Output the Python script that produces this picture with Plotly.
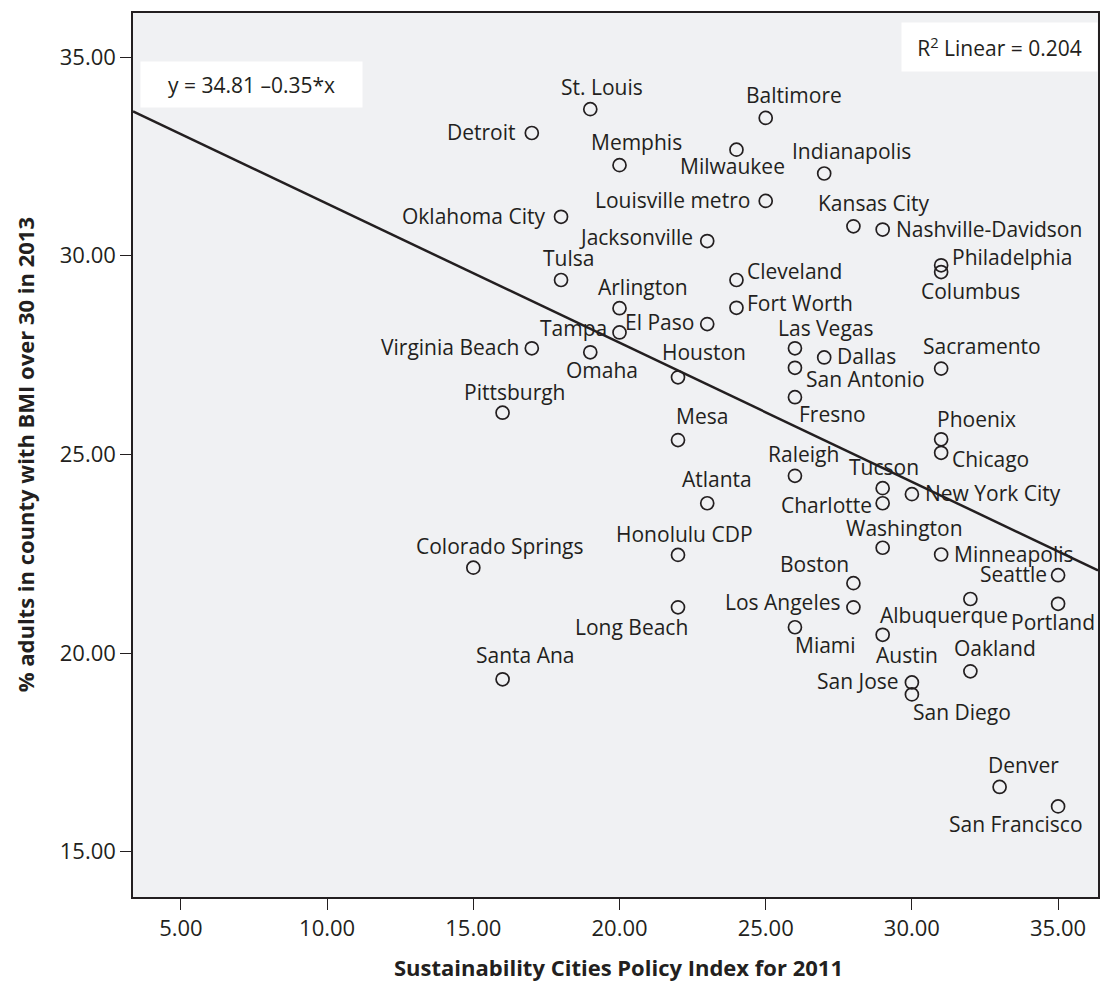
import plotly.graph_objects as go

# ---------------- data ----------------
cities = ["St. Louis", "Baltimore", "Detroit", "Memphis", "Milwaukee", "Indianapolis",
          "Louisville metro", "Oklahoma City", "Kansas City", "Nashville-Davidson",
          "Jacksonville", "Tulsa", "Cleveland", "Philadelphia", "Columbus", "Arlington",
          "Fort Worth", "El Paso", "Tampa", "Virginia Beach", "Omaha", "Las Vegas",
          "Dallas", "San Antonio", "Sacramento", "Houston", "Fresno", "Pittsburgh",
          "Mesa", "Phoenix", "Chicago", "Raleigh", "Tucson", "New York City",
          "Charlotte", "Atlanta", "Washington", "Minneapolis", "Honolulu CDP",
          "Colorado Springs", "Seattle", "Boston", "Albuquerque", "Portland",
          "Los Angeles", "Long Beach", "Miami", "Austin", "Oakland", "San Jose",
          "San Diego", "Santa Ana", "Denver", "San Francisco"]
policy_index = [19, 25, 17, 20, 24, 27,
                25, 18, 28, 29,
                23, 18, 24, 31, 31, 20,
                24, 23, 20, 17, 19, 26,
                27, 26, 31, 22, 26, 16,
                22, 31, 31, 26, 29, 30,
                29, 23, 29, 31, 22,
                15, 35, 28, 32, 35,
                28, 22, 26, 29, 32, 30,
                30, 16, 33, 35]
bmi_over_30 = [33.69, 33.47, 33.09, 32.28, 32.67, 32.07,
               31.38, 30.98, 30.74, 30.66,
               30.37, 29.39, 29.39, 29.76, 29.59, 28.68,
               28.69, 28.28, 28.07, 27.67, 27.57, 27.67,
               27.44, 27.18, 27.16, 26.94, 26.44, 26.05,
               25.36, 25.38, 25.04, 24.46, 24.15, 24.00,
               23.77, 23.77, 22.65, 22.48, 22.47,
               22.15, 21.96, 21.76, 21.36, 21.24,
               21.15, 21.15, 20.65, 20.46, 19.54, 19.26,
               18.96, 19.34, 16.63, 16.14]
fit_intercept = 34.81
fit_slope = -0.35
r_squared = 0.204
x_ticks = [5, 10, 15, 20, 25, 30, 35]
y_ticks = [15, 20, 25, 30, 35]

# ---------------- label placement (style) ----------------
# mode: 'c' = centred with (dx, dy) offset; 'l' = text left of point; 'r' = text right of point
label_style = {
    "St. Louis": ("c", 12, -21), "Baltimore": ("c", 28, -22), "Detroit": ("l", 14, 0),
    "Memphis": ("c", 17, -22), "Milwaukee": ("c", -4, 17), "Indianapolis": ("c", 27, -22),
    "Louisville metro": ("l", 14, 0), "Oklahoma City": ("l", 14, 0),
    "Kansas City": ("c", 21, -22), "Nashville-Davidson": ("r", 11, 0),
    "Jacksonville": ("l", 12, -3), "Tulsa": ("c", 7, -21), "Cleveland": ("r", 9, -8),
    "Philadelphia": ("r", 9, -7), "Columbus": ("c", 29, 20), "Arlington": ("c", 23, -20),
    "Fort Worth": ("r", 9, -4), "El Paso": ("l", 11, -1), "Tampa": ("l", 11, -3),
    "Virginia Beach": ("l", 11, 0), "Omaha": ("c", 12, 19), "Las Vegas": ("c", 31, -19),
    "Dallas": ("r", 11, 0), "San Antonio": ("r", 9, 12), "Sacramento": ("c", 41, -22),
    "Houston": ("c", 26, -24), "Fresno": ("c", 38, 18), "Pittsburgh": ("c", 12, -20),
    "Mesa": ("c", 24, -23), "Phoenix": ("c", 35, -19), "Chicago": ("r", 9, 7),
    "Raleigh": ("c", 9, -21), "Tucson": ("c", 1, -20), "New York City": ("r", 11, 0),
    "Charlotte": ("l", 9, 3), "Atlanta": ("c", 10, -23), "Washington": ("c", 22, -19),
    "Minneapolis": ("r", 11, 0), "Honolulu CDP": ("c", 6, -20),
    "Colorado Springs": ("c", 27, -21), "Seattle": ("l", 9, 0), "Boston": ("c", -39, -18),
    "Albuquerque": ("c", -26, 17), "Portland": ("c", -5, 19), "Los Angeles": ("l", 10, -4),
    "Long Beach": ("c", -47, 21), "Miami": ("c", 31, 19), "Austin": ("c", 24, 21),
    "Oakland": ("c", 25, -22), "San Jose": ("l", 11, 0), "San Diego": ("c", 50, 19),
    "Santa Ana": ("c", 23, -23), "Denver": ("c", 24, -21), "San Francisco": ("c", -42, 19),
}

FONT = "Open Sans"
TXT = "#231f20"
X_RANGE = [3.36, 36.365]
Y_RANGE = [13.86, 36.11]

fig = go.Figure()

# regression line across the axis range
fit_x = X_RANGE
fit_y = [fit_intercept + fit_slope * v for v in fit_x]
fig.add_trace(go.Scatter(x=fit_x, y=fit_y, mode="lines",
                         line=dict(color="#231f20", width=2.5),
                         hoverinfo="skip", showlegend=False))

fig.add_trace(go.Scatter(x=policy_index, y=bmi_over_30, mode="markers",
                         marker=dict(symbol="circle-open", size=13, color="#231f20",
                                     line=dict(width=1.7)),
                         text=cities, showlegend=False))

annotations = []
for name, xv, yv in zip(cities, policy_index, bmi_over_30):
    mode, a, b = label_style[name]
    if mode == "c":
        xa, xs = "center", a
    elif mode == "l":
        xa, xs = "right", -a
    else:
        xa, xs = "left", a
    annotations.append(dict(x=xv, y=yv, xref="x", yref="y", text=name, showarrow=False,
                            xanchor=xa, yanchor="middle", xshift=xs, yshift=-b + 1,
                            font=dict(family=FONT, size=21, color=TXT)))

L, T, B, W, H = 133, 12.5, 897.3, 1100, 981
pw, ph = W - L, B - T

def px(xp):
    return (xp - L) / pw

def py(yp):
    return (B - yp) / ph

# equation box
annotations.append(dict(xref="paper", yref="paper", x=px(140), y=py(61), xanchor="left",
                        yanchor="top", width=221, height=45, borderpad=0,
                        bgcolor="white", showarrow=False,
                        text=f"y = {fit_intercept:.2f} \u2013{abs(fit_slope):.2f}*x",
                        font=dict(family=FONT, size=21, color=TXT)))
# R squared box
annotations.append(dict(xref="paper", yref="paper", x=px(903), y=py(22), xanchor="left",
                        yanchor="top", width=195, height=48, borderpad=0,
                        bgcolor="white", showarrow=False,
                        text=f"R<sup>2</sup> Linear = {r_squared:.3f}",
                        font=dict(family=FONT, size=21, color=TXT)))
# axis titles
annotations.append(dict(xref="paper", yref="paper", x=px(620), y=py(967), xanchor="center",
                        yanchor="middle", showarrow=False,
                        text="<b>Sustainability Cities Policy Index for 2011</b>",
                        font=dict(family=FONT, size=22, color=TXT)))
annotations.append(dict(xref="paper", yref="paper", x=px(25), y=py(455), xanchor="center",
                        yanchor="middle", showarrow=False, textangle=-90,
                        text="<b>% adults in county with BMI over 30 in 2013</b>",
                        font=dict(family=FONT, size=22, color=TXT)))

axis_common = dict(showgrid=False, zeroline=False, showline=True, linecolor="#231f20",
                   linewidth=1.5, mirror=True, ticks="outside", ticklen=11, tickwidth=1.2,
                   tickcolor="#231f20", tickformat=".2f",
                   tickfont=dict(family=FONT, size=22, color=TXT))

fig.update_layout(
    width=W, height=H,
    margin=dict(l=L, r=0, t=T, b=H - B),
    paper_bgcolor="white", plot_bgcolor="#f0f1f3",
    xaxis=dict(range=X_RANGE, tickvals=x_ticks, **axis_common),
    yaxis=dict(range=Y_RANGE, tickvals=y_ticks, **axis_common),
    annotations=annotations,
    showlegend=False,
)

fig.write_html("out.html", config={"displayModeBar": False},
               post_script="document.body.style.margin='0';document.body.style.overflow='hidden';")
